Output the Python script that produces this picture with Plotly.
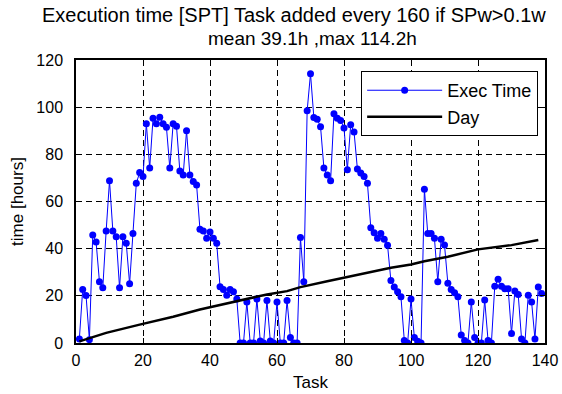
import plotly.graph_objects as go

task = list(range(1, 140))
exec_time = [1.7, 22.7, 20.1, 1.4, 45.8, 42.8, 26, 23.4, 47.5, 68.8,
             47.5, 45.1, 23.4, 45.1, 42.3, 25.1, 46.4, 67.7, 72.3, 70.6,
             93, 74.2, 95.3, 93, 95.7, 93, 91.5, 74.2, 93, 91.9,
             72.9, 71.2, 90, 71.2, 68.5, 67, 48.2, 47.5, 44.4, 47.1,
             44.4, 42.3, 23.8, 22.7, 20.3, 22.7, 21.7, 18.7, 0, 0,
             17.4, 0, 0, 18.7, 0.9, 0, 18, 0.9, 0, 17.4,
             0, 0, 18, 2.3, 0, 0, 44.7, 26, 98.5, 114.2,
             95.6, 94.9, 91.7, 74.2, 71.2, 68.8, 97.2, 95.3, 94.3, 91.2,
             73.5, 92.5, 89.5, 73.8, 72.1, 70.6, 67.7, 48.9, 46.8, 44.4,
             46.4, 44, 41.4, 26.5, 23.7, 21.7, 19.6, 1.1, 0, 18.7,
             2.3, 0.7, 0, 65.2, 46.4, 46.4, 44.4, 26, 44, 41.6,
             25.3, 22.7, 21.3, 19.6, 3.4, 1.1, 0, 17.4, 2.3, 0,
             0, 18.2, 1.1, 0, 24.1, 27, 24.1, 23, 23, 4,
             22, 20.6, 1.7, 0, 20.3, 17.4, 1.7, 23.7, 21]

day_task = [1, 9, 19, 29, 37, 47, 57, 63, 67, 75, 80, 87, 94, 100, 104, 111, 120, 130, 138]
day_val = [0.7, 4.3, 7.8, 11.1, 14.2, 17.4, 20.6, 22, 23.7, 26.2, 27.7, 29.8, 31.9, 33.3, 34.7, 36.6, 39.7, 41.5, 43.7]

x_ticks = [0, 20, 40, 60, 80, 100, 120, 140]
y_ticks = [0, 20, 40, 60, 80, 100, 120]

title_lines = ["Execution time [SPT] Task added every 160 if SPw>0.1w",
               "mean 39.1h ,max 114.2h"]

FONT = "Liberation Sans, Arial, sans-serif"

fig = go.Figure()
fig.add_trace(go.Scatter(x=task, y=exec_time, mode="lines+markers", name="Exec Time",
                         line=dict(color="#0000ff", width=1),
                         marker=dict(color="#0000ff", size=7)))
fig.add_trace(go.Scatter(x=day_task, y=day_val, mode="lines", name="Day",
                         line=dict(color="black", width=2.5)))

axis_common = dict(showline=True, linecolor="black", linewidth=1.5, mirror="ticks",
                   ticks="inside", ticklen=5, tickcolor="black", automargin=False,
                   showgrid=True, gridcolor="black", gridwidth=1, griddash="6px,4px",
                   zeroline=False, tickfont=dict(size=16, color="black", family=FONT))

fig.update_xaxes(range=[0, 140], tickvals=x_ticks, ticklabelstandoff=2,
                 title=dict(text="Task", font=dict(size=17, color="black", family=FONT), standoff=8),
                 **axis_common)
fig.update_yaxes(range=[0, 120], tickvals=y_ticks, ticklabelstandoff=8,
                 title=dict(text="time [hours]", font=dict(size=17, color="black", family=FONT), standoff=8),
                 **axis_common)

fig.update_layout(
    width=562, height=394,
    margin=dict(l=76, r=17, t=60, b=51, autoexpand=False),
    paper_bgcolor="white", plot_bgcolor="white",
    font=dict(family=FONT, size=15, color="black"),
    legend=dict(x=0.608, y=0.961, xanchor="left", yanchor="top",
                bgcolor="white", bordercolor="black", borderwidth=1,
                font=dict(size=18, color="black", family=FONT),
                itemwidth=75, tracegroupgap=0),
    showlegend=True,
)

# title line centres at ~15 px and ~39 px from the top of the picture
fig.add_annotation(text=title_lines[0], xref="paper", yref="paper", x=(294 - 76) / 469,
                   y=(343 - 15) / 283, xanchor="center", yanchor="middle", showarrow=False,
                   font=dict(size=20, color="black", family=FONT))
fig.add_annotation(text=title_lines[1], xref="paper", yref="paper", x=(312 - 76) / 469,
                   y=(343 - 39) / 283, xanchor="center", yanchor="middle", showarrow=False,
                   font=dict(size=19, color="black", family=FONT))

fig.write_html("out.html")
